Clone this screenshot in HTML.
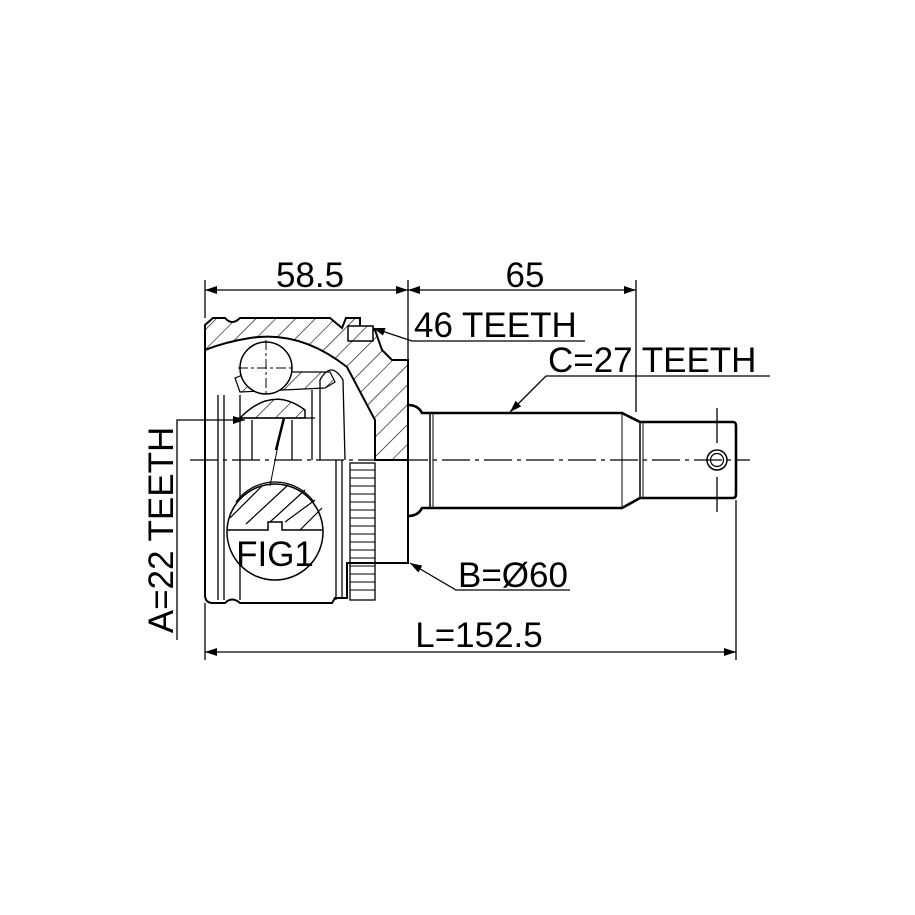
<!DOCTYPE html>
<html><head><meta charset="utf-8"><style>
html,body{margin:0;padding:0;background:#fff;}
svg{display:block;}
text{font-family:"Liberation Sans",sans-serif;fill:#000;}
</style></head><body>
<svg width="915" height="915" viewBox="0 0 915 915" xmlns="http://www.w3.org/2000/svg">
<defs>
<pattern id="h" width="14" height="14" patternUnits="userSpaceOnUse" patternTransform="rotate(45)">
<rect width="14" height="14" fill="#fff"/><line x1="0" y1="0" x2="0" y2="14" stroke="#000" stroke-width="1.2"/>
</pattern>
<marker id="a" markerWidth="12" markerHeight="8" refX="12" refY="4" orient="auto" markerUnits="userSpaceOnUse">
<path d="M0,0 L12,4 L0,8 Z" fill="#000"/></marker>
<marker id="as" markerWidth="12" markerHeight="8" refX="0" refY="4" orient="auto" markerUnits="userSpaceOnUse">
<path d="M12,0 L0,4 L12,8 Z" fill="#000"/></marker>
</defs>
<g fill="none" stroke="#000" stroke-width="2">
<path d="M213,318 L225,318 Q232,326 240,318 L330,318 L342,328 L346,318 L360,318 L360,330 L375,330 L382,350 L392,360 L408,360 L408,460 L375,460 L375,420 L347,367 Q300,330 250,338 Q225,342 205,350 L205,325 Z" fill="url(#h)"/>
<path d="M240,418 Q272,385 305,410 L305,418 Z" fill="url(#h)" stroke-width="1.5"/>
<path d="M235,378 L250,372 L330,372 L335,382 L325,388 L240,392 Z" fill="url(#h)" stroke-width="1.2"/>
<rect x="348" y="326" width="25" height="15" fill="url(#h)" stroke-width="1.5"/>
<path d="M205,350 L205,595 Q205,603 213,603 L225,603 Q232,596 240,603 L332,603 L335,598 L347,598 L347,563 L408,563 L408,460" stroke-width="2"/>
<g stroke-width="1.3">
<line x1="218" y1="395" x2="218" y2="600"/><line x1="224" y1="395" x2="224" y2="600"/>
<line x1="240" y1="395" x2="240" y2="600"/><line x1="252" y1="420" x2="252" y2="460"/>
<line x1="336" y1="460" x2="336" y2="600"/><line x1="312" y1="390" x2="312" y2="460"/>
<line x1="292" y1="420" x2="292" y2="460"/><line x1="342" y1="460" x2="342" y2="598"/>
<line x1="237" y1="418" x2="315" y2="418"/>
<path d="M320,460 L320,380 Q331,360 343,380 L345,460" />
</g>
<circle cx="266" cy="368" r="26" fill="#fff" stroke-width="1.5"/>
<rect x="350" y="463" width="25" height="137" stroke-width="1.3"/>
<g stroke-width="1">
<path d="M350,470H375M350,478H375M350,486H375M350,494H375M350,502H375M350,510H375M350,518H375M350,526H375M350,534H375M350,542H375M350,550H375M350,558H375M350,566H375M350,574H375M350,582H375M350,590H375"/>
</g>
<path d="M408,405 Q418,405 422,413 L430,413 L622,413 L640,422 L733,422 Q736,422 736,426 L736,494 Q736,498 733,498 L640,498 L622,508 L430,508 L422,508 Q418,516 408,516" stroke-width="2.6"/>
<line x1="430" y1="413" x2="430" y2="508" stroke-width="1.5"/><line x1="433" y1="413" x2="433" y2="508" stroke-width="1"/>
<line x1="622" y1="413" x2="622" y2="508" stroke-width="1"/>
<line x1="640" y1="422" x2="640" y2="498" stroke-width="1.5"/><line x1="643" y1="422" x2="643" y2="498" stroke-width="1"/>
<circle cx="717" cy="460" r="10" stroke-width="1.5"/><circle cx="717" cy="460" r="6.5" stroke-width="1.2"/>
<line x1="717" y1="408" x2="717" y2="443" stroke-width="1.3"/><line x1="717" y1="477" x2="717" y2="512" stroke-width="1.3"/>
<line x1="190" y1="460" x2="750" y2="460" stroke-width="1.3" stroke-dasharray="28,5,4,5"/>
<line x1="266" y1="340" x2="266" y2="396" stroke-width="1" stroke-dasharray="10,3,3,3"/>
<line x1="238" y1="368" x2="294" y2="368" stroke-width="1" stroke-dasharray="10,3,3,3"/>
<circle cx="275" cy="532" r="48" fill="#fff" stroke-width="1.5"/>
<path d="M227,530 L268,530 L268,522 L282,522 L282,530 L323,530" stroke-width="1.5"/>
<path d="M236,502 A48,48 0 0 1 314,502 M230,518 L262,486 M246,524 L288,485 M270,522 L305,490 M285,522 L315,500 M300,530 L322,508" stroke-width="1.2"/>
<line x1="270" y1="486" x2="283" y2="420" stroke-width="1"/>
<line x1="276" y1="450" x2="284" y2="418" stroke-width="2.5"/>
<g stroke-width="1.3">
<line x1="205" y1="280" x2="205" y2="318"/><line x1="408" y1="280" x2="408" y2="360"/><line x1="636" y1="280" x2="636" y2="412"/>
<line x1="205" y1="290" x2="408" y2="290" marker-start="url(#as)" marker-end="url(#a)"/>
<line x1="408" y1="290" x2="636" y2="290" marker-start="url(#as)" marker-end="url(#a)"/>
<line x1="205" y1="603" x2="205" y2="660"/><line x1="736" y1="500" x2="736" y2="660"/>
<line x1="205" y1="652" x2="736" y2="652" marker-start="url(#as)" marker-end="url(#a)"/>
<polyline points="585,341 412,341 373,328" marker-end="url(#a)"/>
<polyline points="770,376 546,376 510,412" marker-end="url(#a)"/>
<polyline points="570,590 456,590 410,563" marker-end="url(#a)"/>
<polyline points="177,640 177,420 245,420" marker-end="url(#a)"/>
</g>
</g>
<g font-size="35">
<text x="310" y="287" text-anchor="middle">58.5</text>
<text x="525" y="287" text-anchor="middle">65</text>
<text x="414" y="337">46 TEETH</text>
<text x="548" y="372">C=27 TEETH</text>
<text x="458" y="587">B=Ø60</text>
<text x="479" y="647" text-anchor="middle">L=152.5</text>
<text x="275" y="566" text-anchor="middle">FIG1</text>
<text transform="translate(173,530) rotate(-90)" text-anchor="middle">A=22 TEETH</text>
</g>
</svg>
</body></html>
